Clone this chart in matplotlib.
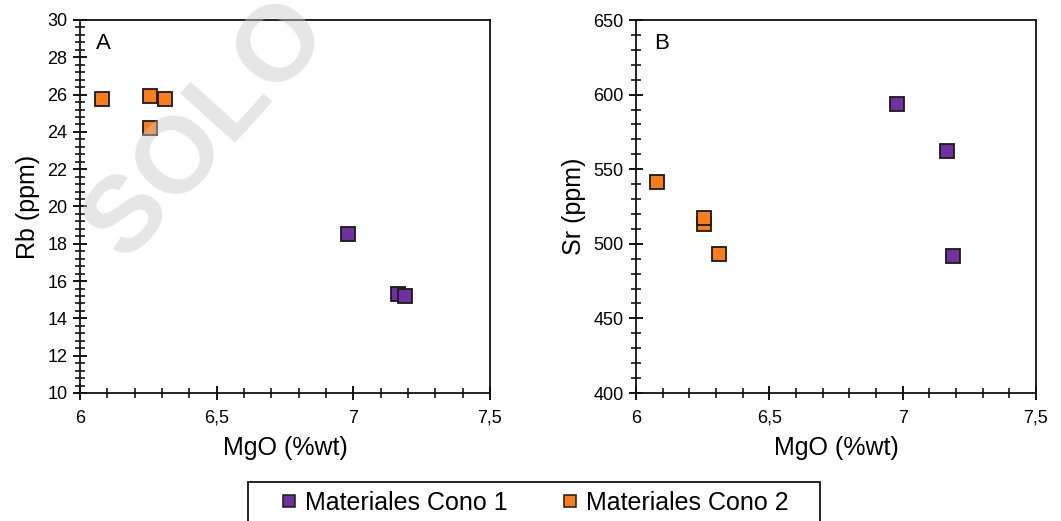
import matplotlib
matplotlib.use("Agg")
import matplotlib.pyplot as plt
from matplotlib.ticker import MultipleLocator, FuncFormatter
from matplotlib.lines import Line2D
from matplotlib.patches import Rectangle

plt.rcParams['font.family'] = ['Liberation Sans', 'DejaVu Sans']

# MgO (%wt) vs trace elements for the two cones
mgo_cono1 = [6.98, 7.165, 7.19]
rb_cono1 = [18.5, 15.3, 15.2]
sr_cono1 = [593.5, 562.5, 491.8]

mgo_cono2 = [6.08, 6.255, 6.31, 6.255]
rb_cono2 = [25.75, 25.95, 25.75, 24.2]
sr_cono2 = [541.6, 513.0, 493.0, 517.0]

PURPLE = '#7030a0'
ORANGE = '#fa7d19'

fig = plt.figure(figsize=(10.61, 5.21), dpi=100)
W, H = 1061, 521


def px_axes(l, t, r, b):
    return fig.add_axes([l / W, 1 - b / H, (r - l) / W, (b - t) / H])


def style(ax, ymin, ymax, ymaj, ymin_step):
    ax.set_xlim(6, 7.5)
    ax.set_ylim(ymin, ymax)
    ax.xaxis.set_major_locator(MultipleLocator(0.5))
    ax.xaxis.set_minor_locator(MultipleLocator(0.1))
    ax.yaxis.set_major_locator(MultipleLocator(ymaj))
    ax.yaxis.set_minor_locator(MultipleLocator(ymin_step))
    ax.xaxis.set_major_formatter(FuncFormatter(lambda v, p: f"{v:g}".replace('.', ',')))
    ax.tick_params(which='major', direction='inout', length=10, width=1.3,
                   labelsize=13, pad=4)
    ax.tick_params(which='minor', direction='inout', length=7, width=1.1)
    ax.tick_params(axis='x', which='major', pad=7)
    for s in ax.spines.values():
        s.set_linewidth(1.3)
        s.set_color('#111111')
    ax.set_xlabel('MgO (%wt)', fontsize=18, labelpad=7)


mk = dict(marker='s', linestyle='none', markersize=10, markeredgecolor='#1a1a1a',
          markeredgewidth=1.3, zorder=3)

# Panel A: Rb
axA = px_axes(80, 20, 490, 393)
style(axA, 10, 30, 2, 0.4)
axA.plot(mgo_cono1, rb_cono1, markerfacecolor=PURPLE, **mk)
axA.plot(mgo_cono2, rb_cono2, markerfacecolor=ORANGE, **mk)
axA.set_ylabel('Rb (ppm)', fontsize=18, labelpad=5)
axA.text(0.04, 0.965, 'A', transform=axA.transAxes, fontsize=16, va='top', ha='left')

# Panel B: Sr
axB = px_axes(636, 20, 1036, 393)
style(axB, 400, 650, 50, 10)
axB.plot(mgo_cono1, sr_cono1, markerfacecolor=PURPLE, **mk)
axB.plot(mgo_cono2, sr_cono2, markerfacecolor=ORANGE, **mk)
axB.set_ylabel('Sr (ppm)', fontsize=18, labelpad=5)
axB.text(0.045, 0.965, 'B', transform=axB.transAxes, fontsize=16, va='top', ha='left')

# shared legend, frame drawn separately so it runs off the bottom edge
handles = [
    Line2D([], [], marker='s', linestyle='none', markersize=8, markerfacecolor=PURPLE,
           markeredgecolor='#1a1a1a', markeredgewidth=1.1, label='Materiales Cono 1'),
    Line2D([], [], marker='s', linestyle='none', markersize=8, markerfacecolor=ORANGE,
           markeredgecolor='#1a1a1a', markeredgewidth=1.1, label='Materiales Cono 2'),
]
fig.legend(handles=handles, ncol=2, loc='center',
           bbox_to_anchor=(535 / W, 1 - 503 / H), fontsize=18,
           frameon=False, handlelength=0.6, handletextpad=0.35, columnspacing=2.2,
           borderpad=0)
fig.add_artist(Rectangle((248 / W, -0.1), (820 - 248) / W, 0.1 + (H - 482) / H,
                         transform=fig.transFigure, fill=False, edgecolor='#111111',
                         linewidth=1.3, clip_on=False))

# watermark across panel A
fig.text(126 / W, 1 - 264 / H, 'SOLO USO', fontsize=78, fontweight='bold',
         color='#c8c8c8', alpha=0.45, rotation=48, rotation_mode='anchor',
         ha='left', va='baseline', zorder=10)

fig.savefig('out.png', dpi=100)
